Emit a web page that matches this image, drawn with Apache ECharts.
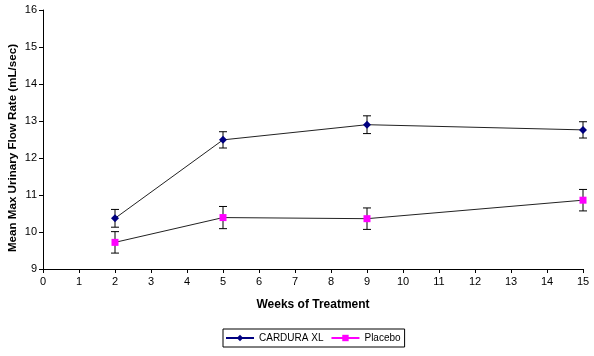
<!DOCTYPE html>
<html><head><meta charset="utf-8">
<script src="https://cdn.jsdelivr.net/npm/echarts@6/dist/echarts.min.js"></script>
<style>html,body{margin:0;padding:0;background:#fff}#c{width:594px;height:356px}</style>
</head><body><div id="c"></div>
<script>
const weeks = [2, 5, 9, 15];
const carduraMean = [10.37, 12.49, 12.90, 12.76];
const carduraErr = [0.24, 0.22, 0.24, 0.22];
const placeboMean = [9.72, 10.39, 10.36, 10.86];
const placeboErr = [0.29, 0.30, 0.29, 0.29];
const xTicks = [0,1,2,3,4,5,6,7,8,9,10,11,12,13,14,15];
const yTicks = [9,10,11,12,13,14,15,16];

const FONT = 'Liberation Sans, Arial, sans-serif';
const chart = echarts.init(document.getElementById('c'), null, {renderer:'canvas'});

function errData(mean, err){
  return weeks.map((w,i)=>[w, mean[i]-err[i], mean[i]+err[i]]);
}
function errRender(params, api){
  const x = api.value(0);
  const lo = api.coord([x, api.value(1)]);
  const hi = api.coord([x, api.value(2)]);
  const h = 4;
  const st = {stroke:'#000', lineWidth:1};
  return {type:'group', children:[
    {type:'line', shape:{x1:lo[0],y1:lo[1],x2:hi[0],y2:hi[1]}, style:st},
    {type:'line', shape:{x1:lo[0]-h,y1:lo[1],x2:lo[0]+h,y2:lo[1]}, style:st},
    {type:'line', shape:{x1:hi[0]-h,y1:hi[1],x2:hi[0]+h,y2:hi[1]}, style:st}
  ]};
}

chart.setOption({
  animation:false,
  backgroundColor:'#fff',
  textStyle:{fontFamily:FONT},
  grid:{left:43, top:10, right:11, bottom:87, containLabel:false, outerBoundsMode:'none'},
  legend:{
    data:[
      {name:'CARDURA XL', lineStyle:{color:'#000080'}},
      {name:'Placebo', lineStyle:{color:'#FF00FF'}}
    ],
    orient:'horizontal',
    left:223, top:329,
    itemWidth:28, itemHeight:8, itemGap:7,
    padding:[4,4,4,2],
    borderColor:'#000', borderWidth:1,
    textStyle:{fontFamily:FONT, fontSize:10, color:'#000'}
  },
  xAxis:{
    type:'value', min:0, max:15, interval:1,
    name:'Weeks of Treatment', nameLocation:'middle', nameGap:30,
    nameTextStyle:{fontFamily:FONT, fontSize:12, fontWeight:'bold', color:'#000'},
    axisLine:{lineStyle:{color:'#000', width:1}},
    axisTick:{show:true, length:4, lineStyle:{color:'#000'}},
    axisLabel:{fontFamily:FONT, fontSize:11, color:'#000', margin:7},
    splitLine:{show:false}
  },
  yAxis:{
    type:'value', min:9, max:16, interval:1,
    name:'Mean Max Urinary Flow Rate (mL/sec)', nameLocation:'middle', nameGap:24,
    nameMoveOverlap:false,
    nameTextStyle:{fontFamily:FONT, fontSize:11.6, fontWeight:'bold', color:'#000', padding:[0,17,0,0]},
    axisLine:{show:true, lineStyle:{color:'#000', width:1}},
    axisTick:{show:true, length:4, lineStyle:{color:'#000'}},
    axisLabel:{fontFamily:FONT, fontSize:11, color:'#000', margin:6},
    splitLine:{show:false}
  },
  series:[
    {name:'CARDURA XL', type:'line', data:weeks.map((w,i)=>[w,carduraMean[i]]),
     symbol:'diamond', symbolSize:8, itemStyle:{color:'#000080'},
     lineStyle:{color:'#222', width:1}, z:3},
    {name:'Placebo', type:'line', data:weeks.map((w,i)=>[w,placeboMean[i]]),
     symbol:'rect', symbolSize:7, itemStyle:{color:'#FF00FF'},
     lineStyle:{color:'#222', width:1}, z:3},
    {name:'errC', type:'custom', renderItem:errRender, data:errData(carduraMean,carduraErr), z:2, silent:true},
    {name:'errP', type:'custom', renderItem:errRender, data:errData(placeboMean,placeboErr), z:2, silent:true}
  ]
});
</script></body></html>
